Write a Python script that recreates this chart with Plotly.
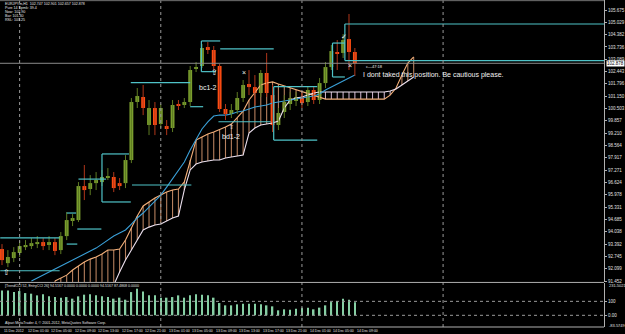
import plotly.graph_objects as go

# ---------------- data ----------------
BARS = list(range(61))
OPEN = [93.13, 92.39, 92.655, 92.92, 93.23, 93.285, 93.39, 93.495, 93.34, 93.495,
        93.075, 93.81, 94.60, 94.65, 96.435, 96.28, 96.59, 96.645, 96.91, 96.91,
        96.59, 96.59, 97.80, 100.845, 101.11, 99.64, 100.53, 99.69, 99.585, 99.48,
        100.74, 100.69, 100.845, 102.58, 102.735, 103.73, 103.575, 102.735, 100.48, 100.215,
        100.425, 101.055, 101.79, 101.63, 101.32, 102.37, 101.21, 99.64, 100.32, 100.74,
        100.90, 101.055, 100.845, 101.475, 100.95, 101.84, 102.68, 103.47, 103.42, 104.15,
        103.47]
HIGH = [93.39, 93.075, 93.23, 93.55, 93.60, 93.705, 93.81, 93.705, 93.81, 93.705,
        94.02, 95.07, 94.965, 96.645, 97.54, 97.01, 97.17, 97.275, 97.38, 97.17,
        96.855, 98.06, 101.055, 101.58, 101.74, 100.95, 100.845, 100.74, 99.90, 100.95,
        100.95, 101.055, 102.735, 102.945, 103.89, 103.995, 103.785, 102.84, 100.74, 100.74,
        101.37, 102.0, 102.525, 102.26, 102.525, 103.42, 101.74, 100.53, 101.21, 101.37,
        101.37, 101.37, 101.685, 101.685, 102.105, 102.945, 103.84, 104.10, 104.415, 105.465,
        103.68]
LOW = [92.29, 92.18, 92.445, 92.71, 93.075, 93.13, 93.18, 93.075, 93.075, 92.81,
       92.865, 93.60, 94.335, 94.545, 95.70, 95.96, 96.225, 96.435, 96.75, 96.12,
       96.225, 96.33, 97.64, 100.53, 100.16, 99.11, 99.11, 99.48, 99.11, 99.27,
       100.425, 100.53, 100.635, 102.42, 102.63, 103.365, 102.525, 100.32, 99.90, 100.005,
       100.215, 100.845, 101.21, 100.69, 101.11, 101.11, 99.27, 99.375, 100.005, 100.425,
       100.635, 100.53, 100.635, 100.74, 100.74, 101.58, 102.525, 102.525, 103.155, 102.525,
       102.21]
CLOSE = [92.55, 92.71, 92.97, 93.285, 93.34, 93.44, 93.495, 93.285, 93.495, 93.03,
         93.81, 94.65, 94.755, 96.435, 96.225, 96.59, 96.75, 96.91, 96.96, 96.33,
         96.435, 97.80, 100.845, 101.16, 100.53, 100.53, 99.64, 100.53, 99.43, 100.69,
         100.635, 100.845, 102.525, 102.68, 103.68, 103.575, 102.735, 100.48, 100.215, 100.425,
         101.055, 101.74, 101.63, 101.32, 102.37, 101.32, 99.64, 100.27, 100.845, 101.055,
         101.11, 100.79, 101.475, 100.95, 101.84, 102.68, 103.52, 103.365, 104.10, 103.47,
         102.878]

# moving line (blue), bars 5..60
KIJUN_START = 5
KIJUN = [91.45, 91.61, 91.76, 91.92, 92.08, 92.24, 92.39, 92.55, 92.71, 92.87,
         93.03, 93.18, 93.39, 93.60, 93.81, 93.97, 94.13, 94.44, 94.76, 95.02,
         95.33, 95.65, 95.96, 96.38, 96.80, 97.28, 97.70, 98.33, 98.85, 99.43,
         99.80, 100.11, 100.16, 100.16, 100.22, 100.32, 100.37, 100.48, 100.58, 100.64,
         100.69, 100.79, 100.85, 100.90, 100.95, 101.00, 101.06, 101.11, 101.16, 101.27,
         101.48, 101.63, 101.79, 101.95, 102.11, 102.26]

# cloud spans, bars 9..70
CLOUD_START = 9
SPAN_A = [91.45, 91.61, 91.76, 92.03, 92.24, 92.45, 92.60, 92.71, 92.87, 93.08,
          93.08, 93.13, 93.60, 94.23, 94.86, 95.39, 95.60, 95.81, 95.96, 96.12,
          96.23, 96.28, 96.65, 97.80, 98.85, 99.01, 99.17, 99.27, 99.38, 99.53,
          99.69, 100.01, 100.37, 100.95, 101.37, 101.74, 101.84, 101.90, 101.79, 101.69,
          101.58, 101.48, 101.37, 101.27, 101.16, 101.06, 101.00, 101.00, 101.00, 101.00,
          101.00, 101.00, 101.00, 101.00, 101.00, 101.00, 101.00, 101.21, 101.58, 102.26,
          102.89, 103.21]
SPAN_B = [85.20, 85.73, 86.25, 86.78, 87.30, 87.83, 88.35, 88.98, 89.61, 90.45,
          91.24, 91.92, 92.55, 93.08, 93.60, 94.13, 94.28, 94.39, 94.44, 94.60,
          94.76, 94.86, 96.23, 97.28, 97.59, 97.70, 97.75, 97.80, 97.80, 97.91,
          97.96, 98.01, 98.06, 99.22, 99.48, 99.64, 99.69, 99.74, 99.85, 100.53,
          100.95, 101.06, 101.11, 101.21, 101.32, 101.37, 101.37, 101.37, 101.37, 101.37,
          101.37, 101.37, 101.37, 101.37, 101.37, 101.37, 101.37, 101.42, 101.53, 101.74,
          101.95, 102.16]

# oscillator (TrendCCI) histogram
CCI = [178.6, 178.6, 166.4, 173.6, 159.3, 155.0, 142.9, 150.0, 135.7, 130.7,
       126.4, 130.7, 119.3, 135.7, 147.9, 150.0, 142.9, 135.7, 130.7, 119.3,
       126.4, 112.1, 166.4, 190.7, 171.4, 142.9, 142.9, 126.4, 126.4, 130.7,
       142.9, 126.4, 142.9, 150.0, 147.9, 142.9, 126.4, 87.9, 71.4, 71.4,
       78.6, 83.6, 83.6, 83.6, 78.6, 71.4, 64.3, 35.7, 42.9, 40.7,
       47.9, 55.0, 55.0, 42.9, 55.0, 71.4, 95.0, 102.1, 119.3, 112.1,
       94.5]

# horizontal levels: start bar, end bar, price
LEVEL_START = [-0.3, -0.3, 11.0, 11.0, 12.8, 13.0, 17.0, 17.0, 22.1, 21.9, 32.0,
               33.9, 33.9, 37.1, 36.8, 46.2, 46.2, 58.3, 58.3, 56.2, 56.2]
LEVEL_END = [9.8, 9.8, 12.8, 12.6, 16.9, 17.7, 21.6, 21.9, 32.2, 32.0, 34.2,
             37.1, 36.4, 46.2, 45.7, 53.6, 53.6, 102.4, 102.4, 58.3, 58.3]
LEVEL_PRICE = [93.72, 91.99, 93.39, 95.02, 94.18, 96.80, 98.12, 95.60, 96.49, 101.86, 100.60,
               104.05, 102.44, 103.63, 99.81, 101.65, 98.85, 104.94, 103.02, 103.94, 102.16]
# vertical connectors of level brackets: bar, price from, price to
CONN_BAR = [17.0, 33.9, 46.2, 56.2, 58.3]
CONN_P1 = [98.12, 104.05, 101.65, 103.94, 104.94]
CONN_P2 = [95.60, 102.44, 98.85, 102.16, 103.02]

PRICE_TICKS = [91.452, 92.099, 92.745, 93.392, 94.038, 94.685, 95.331, 95.978, 96.624,
               97.271, 97.917, 98.564, 99.210, 99.857, 100.503, 101.150, 101.796,
               102.443, 103.089, 103.736, 104.382, 105.029, 105.675]
TIME_TICK_BARS = [0, 4, 8, 12, 16, 20, 24, 28, 32, 36, 40, 44, 48, 52, 56, 60]
TIME_TICK_TEXT = ["11 Dec 2012", "12 Dec 01:00", "12 Dec 05:00", "12 Dec 09:00",
                  "12 Dec 13:00", "12 Dec 17:00", "12 Dec 21:00", "13 Dec 01:00",
                  "13 Dec 05:00", "13 Dec 09:00", "13 Dec 13:00", "13 Dec 17:00",
                  "13 Dec 21:00", "14 Dec 01:00", "14 Dec 05:00", "14 Dec 09:00"]
DAY_SEPARATORS = [3, 27, 51, 75]

# ---------------- figure ----------------
GREEN = "#7a9e2e"
RED = "#ff4d12"
GREEN_WICK = "#5d7a22"
RED_WICK = "#b0361a"
CYAN = "#4fc3c8"
WHITE = "#f2f2f2"
SMALL = "Liberation Sans"

fig = go.Figure()

# cloud hatching (one vertical stroke per bar)
hx_up, hy_up, hx_dn, hy_dn = [], [], [], []
for i, (a, b) in enumerate(zip(SPAN_A, SPAN_B)):
    k = CLOUD_START + i
    if a >= b:
        hx_up += [k, k, None]; hy_up += [a, b, None]
    else:
        hx_dn += [k, k, None]; hy_dn += [a, b, None]
fig.add_trace(go.Scatter(x=hx_up, y=hy_up, mode="lines",
                         line=dict(color="rgba(214,150,110,0.85)", width=1.1), hoverinfo="skip"))
fig.add_trace(go.Scatter(x=hx_dn, y=hy_dn, mode="lines",
                         line=dict(color="rgba(216,191,216,0.9)", width=1.1), hoverinfo="skip"))
cloud_x = [CLOUD_START + i for i in range(len(SPAN_A))]
fig.add_trace(go.Scatter(x=cloud_x, y=SPAN_A, mode="lines",
                         line=dict(color="#f4b07a", width=1.1), hoverinfo="skip"))
fig.add_trace(go.Scatter(x=cloud_x, y=SPAN_B, mode="lines",
                         line=dict(color="#ece0ee", width=1.1), hoverinfo="skip"))

# blue moving line
fig.add_trace(go.Scatter(x=[KIJUN_START + i for i in range(len(KIJUN))], y=KIJUN, mode="lines",
                         line=dict(color="#3aa0d8", width=1.1), hoverinfo="skip"))

# wicks
wx_u, wy_u, wx_d, wy_d = [], [], [], []
for k, o, h, l, c in zip(BARS, OPEN, HIGH, LOW, CLOSE):
    if c >= o:
        wx_u += [k, k, None]; wy_u += [l, h, None]
    else:
        wx_d += [k, k, None]; wy_d += [l, h, None]
fig.add_trace(go.Scatter(x=wx_u, y=wy_u, mode="lines", line=dict(color=GREEN_WICK, width=1), hoverinfo="skip"))
fig.add_trace(go.Scatter(x=wx_d, y=wy_d, mode="lines", line=dict(color=RED_WICK, width=1), hoverinfo="skip"))

# bodies
base = [min(o, c) for o, c in zip(OPEN, CLOSE)]
height = [max(abs(c - o), 0.05) for o, c in zip(OPEN, CLOSE)]
colors = [GREEN if c >= o else RED for o, c in zip(OPEN, CLOSE)]
fig.add_trace(go.Bar(x=BARS, y=height, base=base, width=0.66,
                     marker=dict(color=colors, line=dict(width=0)), hoverinfo="skip"))

# oscillator
fig.add_trace(go.Bar(x=BARS, y=CCI, width=0.26, xaxis="x2", yaxis="y2",
                     marker=dict(color="#86cfa4", line=dict(width=0)), hoverinfo="skip"))

shapes = []
for s, e, p in zip(LEVEL_START, LEVEL_END, LEVEL_PRICE):
    shapes.append(dict(type="line", xref="x", yref="y", x0=s, x1=e, y0=p, y1=p,
                       line=dict(color=CYAN, width=1.2)))
for k, p1, p2 in zip(CONN_BAR, CONN_P1, CONN_P2):
    shapes.append(dict(type="line", xref="x", yref="y", x0=k, x1=k, y0=p1, y1=p2,
                       line=dict(color=CYAN, width=1.2)))
for k in DAY_SEPARATORS:
    shapes.append(dict(type="line", xref="x", yref="paper", x0=k, x1=k, y0=0, y1=1,
                       line=dict(color="#9a9a9a", width=1, dash="dot")))
bid = CLOSE[-1]
shapes.append(dict(type="line", xref="paper", yref="y", x0=0, x1=1, y0=bid, y1=bid,
                   line=dict(color="#8a8a8a", width=1)))
for v in (100, 0):
    shapes.append(dict(type="line", xref="paper", yref="y2", x0=0, x1=1, y0=v, y1=v,
                       line=dict(color="#9a9a9a", width=1, dash="dot")))
for pyv, col in ((0.1363, "#b0b0b0"), (0.0, "#b0b0b0"), (0.998, "#707070")):
    shapes.append(dict(type="line", xref="paper", yref="paper", x0=0, x1=1, y0=pyv, y1=pyv,
                       line=dict(color=col, width=1)))

ann = []
PH = 327.0
def py(px):
    return (PH - px) / PH

header = ["EURJPYm,H1  102.747 102.901 102.657 102.878", "Pure 14 Spmk: 39.4",
          "Now: 102.90", "Bar: 101.30", "RSL: 103.25"]
for i, t in enumerate(header):
    ann.append(dict(text=t, xref="paper", yref="paper", x=0.005, y=py(3.6 + 4.2 * i),
                    xanchor="left", yanchor="middle", showarrow=False,
                    font=dict(size=3.6, color="#e8e8e8", family=SMALL)))
ann.append(dict(text="[TrendCCI 52, EntryCCI 26] 94.5167 0.0000 0.0000 0.0000 94.5167 87.4868 0.0000",
                xref="paper", yref="paper", x=0.005, y=py(286), xanchor="left", yanchor="middle",
                showarrow=False, font=dict(size=3.6, color="#e0e0e0", family=SMALL)))
ann.append(dict(text="Alpari MetaTrader 4, © 2001-2012, MetaQuotes Software Corp.",
                xref="paper", yref="paper", x=0.005, y=py(323), xanchor="left", yanchor="middle",
                showarrow=False, font=dict(size=3.6, color="#e0e0e0", family=SMALL)))
for k, t in zip(TIME_TICK_BARS, TIME_TICK_TEXT):
    ann.append(dict(text=t, xref="x", yref="paper", x=k, y=py(331), xanchor="left",
                    yanchor="middle", showarrow=False,
                    font=dict(size=3.5, color="#e0e0e0", family=SMALL)))
ann.append(dict(text="231.5021", xref="paper", yref="paper", x=1.0, xshift=3, y=py(285.5),
                xanchor="left", yanchor="middle", showarrow=False,
                font=dict(size=4, color="#e0e0e0", family=SMALL)))
ann.append(dict(text="-83.5749", xref="paper", yref="paper", x=1.0, xshift=3, y=py(325),
                xanchor="left", yanchor="middle", showarrow=False,
                font=dict(size=4, color="#e0e0e0", family=SMALL)))
ann.append(dict(text=f"{bid:.3f}", xref="paper", yref="y", x=1.0, xshift=2, y=bid,
                xanchor="left", yanchor="middle", showarrow=False, bgcolor="#ffffff",
                borderpad=0, font=dict(size=4.5, color="#000000", family=SMALL)))

marks = [
    ("⇧", 0.84, 91.92, 8, "center"),
    ("⇧", 36.1, 102.37, 8, "center"),
    ("bc1-2", 35.1, 101.63, 7, "center"),
    ("×", 41.1, 102.37, 7, "center"),
    ("bd1-2", 39.0, 99.01, 7, "center"),
    ("⇧", 39.1, 99.53, 6, "center"),
    ("✓", 58.2, 104.26, 7, "center"),
    ("×", 59.2, 102.74, 7, "center"),
    ("c—47:18", 61.6, 102.70, 4, "left"),
    ("I dont taked this position. Be cautious please.", 61.0, 102.26, 7, "left"),
]
for t, k, p, s, anc in marks:
    ann.append(dict(text=t, xref="x", yref="y", x=k, y=p, xanchor=anc, yanchor="middle",
                    showarrow=False, font=dict(size=s, color=WHITE, family="Liberation Sans")))

fig.update_layout(
    width=625, height=334,
    margin=dict(l=0, r=16, t=0, b=7),
    paper_bgcolor="#000000", plot_bgcolor="#000000",
    showlegend=False, barmode="overlay",
    shapes=shapes, annotations=ann,
    xaxis=dict(range=[-0.34, 102.36], showgrid=False, zeroline=False, showticklabels=False,
               anchor="y"),
    xaxis2=dict(matches="x", showgrid=False, zeroline=False, showticklabels=False, anchor="y2"),
    yaxis=dict(domain=[0.1376, 1.0], range=[91.3995, 106.1998], side="right",
               tickvals=PRICE_TICKS, ticktext=[f"{v:.3f}" for v in PRICE_TICKS],
               tickfont=dict(size=4.5, color="#e0e0e0", family=SMALL),
               ticks="outside", ticklen=2, tickcolor="#b0b0b0",
               showline=True, linecolor="#b0b0b0", linewidth=1,
               showgrid=False, zeroline=False),
    yaxis2=dict(domain=[0.0, 0.1346], range=[-83.6, 231.5], side="right",
                tickvals=[100, 0], ticktext=["100", "0.00"],
                tickfont=dict(size=4.5, color="#e0e0e0", family=SMALL),
                ticks="outside", ticklen=2, tickcolor="#b0b0b0",
                showline=True, linecolor="#b0b0b0", linewidth=1,
                showgrid=False, zeroline=False),
)

fig.write_html("out.html")
